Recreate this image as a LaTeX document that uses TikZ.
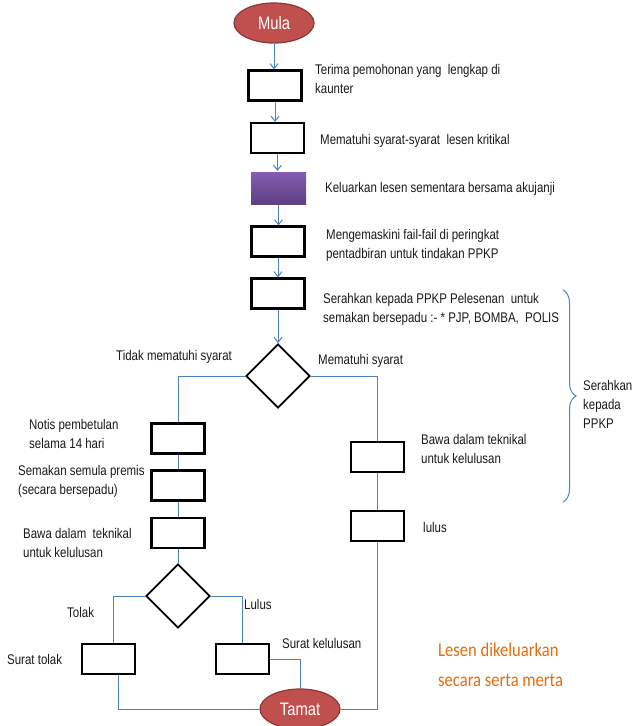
\documentclass[tikz,border=0pt]{standalone}
\usepackage{fontspec}
\setmainfont{Liberation Sans}[FakeStretch=0.82]
\newfontfamily\calib{Carlito}[FakeStretch=0.85]
\usetikzlibrary{shapes.geometric,arrows.meta,decorations.pathreplacing}
\definecolor{lineblue}{RGB}{79,129,189}
\definecolor{termred}{RGB}{192,80,77}
\definecolor{termedge}{RGB}{140,56,54}
\definecolor{orangetxt}{RGB}{228,108,10}
\definecolor{purtop}{RGB}{132,92,178}
\definecolor{purbot}{RGB}{94,64,132}
\begin{document}
\begin{tikzpicture}[x=1pt,y=-1pt,
 box/.style={draw=black,line width=2.2pt,minimum width=53pt,minimum height=30pt,inner sep=0pt},
 term/.style={ellipse,fill=termred,draw=termedge,line width=1.2pt,minimum width=80pt,minimum height=40pt,inner sep=0pt,text=white,font=\fontsize{18}{20}\selectfont},
 dec/.style={diamond,draw=black,line width=1.8pt,minimum width=64pt,minimum height=64pt,inner sep=0pt},
 conn/.style={draw=lineblue,line width=1pt},
 arr/.style={conn,-{Straight Barb[length=5pt,width=8pt]}},
 lbl/.style={font=\fontsize{14}{19}\selectfont,align=left,anchor=west,inner sep=0pt,text=black!90}]
\useasboundingbox (0,0) rectangle (632,726);
% main column
\node[term] (mula) at (274,23) {Mula};
\node[box] (b1) at (275,85.5) {};
\node[box] (b2) at (277.5,138) {};
\node[box,draw=none,top color=purtop,bottom color=purbot,minimum width=55pt,minimum height=32pt] (b3) at (278.5,188) {};
\node[box] (b4) at (278,241.5) {};
\node[box] (b5) at (278,293.5) {};
\node[dec] (d1) at (278,376) {};
% left branch
\node[box] (la) at (178,438.5) {};
\node[box] (lb) at (178,485.5) {};
\node[box] (lc) at (178,533) {};
\node[dec] (d2) at (178,596) {};
\node[box] (st) at (108.5,659) {};
\node[box] (sk) at (242.5,659) {};
% right branch
\node[box] (r1) at (377.5,457) {};
\node[box] (r2) at (377.5,526) {};
\node[term] (tamat) at (300,709) {Tamat};
% connectors
\draw[arr] (mula.south) -- (mula.south |- b1.north);
\draw[arr] (b1.south) -- (b1.south |- b2.north);
\draw[arr] (b2.south) -- (b2.south |- b3.north);
\draw[arr] (b3.south) -- (b3.south |- b4.north);
\draw[arr] (b4.south) -- (b4.south |- b5.north);
\draw[arr] (b5) -- (d1);
\draw[conn] (d1.west) -| (la.north);
\draw[conn] (la) -- (lb);
\draw[conn] (lb) -- (lc);
\draw[conn] (lc) -- (d2);
\draw[conn] (d1.east) -| (r1.north);
\draw[conn] (r1) -- (r2);
\draw[conn] (d2.west) -| ([xshift=4.5pt]st.north);
\draw[conn] (d2.east) -| (sk.north);
\draw[conn] ([xshift=9.5pt]st.south) |- (tamat.west);
\draw[conn] (sk.east) -| (tamat.north);
\draw[conn] (r2.south) |- (tamat.east);
% brace
\coordinate (bt) at (563,290);
\coordinate (bb) at (563,502);
\draw[conn,decorate,decoration={brace,amplitude=13pt}] (bt) -- (bb);
% labels
\node[lbl] (t1) at (315,79) {Terima pemohonan yang\ \ lengkap di\\kaunter};
\node[lbl] (t2) at (320,141) {Mematuhi syarat-syarat\ \ lesen kritikal};
\node[lbl] (t3) at (325,189) {Keluarkan lesen sementara bersama akujanji};
\node[lbl] (t4) at (326,245) {Mengemaskini fail-fail di peringkat\\pentadbiran untuk tindakan PPKP};
\node[lbl] (t5) at (323,309) {Serahkan kepada PPKP Pelesenan\ \ untuk\\semakan bersepadu :- * PJP, BOMBA,\ \ POLIS};
\node[lbl] (t6) at (116,357) {Tidak mematuhi syarat};
\node[lbl] (t7) at (318,361) {Mematuhi syarat};
\node[lbl] (t8) at (29,433.5) {Notis pembetulan\\selama 14 hari};
\node[lbl] (t9) at (18,481) {Semakan semula premis\\(secara bersepadu)};
\node[lbl] (t10) at (23,543) {Bawa dalam\ \ teknikal\\untuk kelulusan};
\node[lbl] (t11) at (421,449) {Bawa dalam teknikal\\untuk kelulusan};
\node[lbl] (t12) at (423,527) {lulus};
\node[lbl] (t13) at (67,612) {Tolak};
\node[lbl] (t14) at (244,604) {Lulus};
\node[lbl] (t15) at (7,659) {Surat tolak};
\node[lbl] (t16) at (282,643) {Surat kelulusan};
\node[lbl] (t17) at (583,404) {Serahkan\\kepada\\PPKP};
\node[lbl,font=\calib\fontsize{19.5}{30}\selectfont,text=orangetxt] (t18) at (438,665) {Lesen dikeluarkan\\secara serta merta};
\end{tikzpicture}
\end{document}
